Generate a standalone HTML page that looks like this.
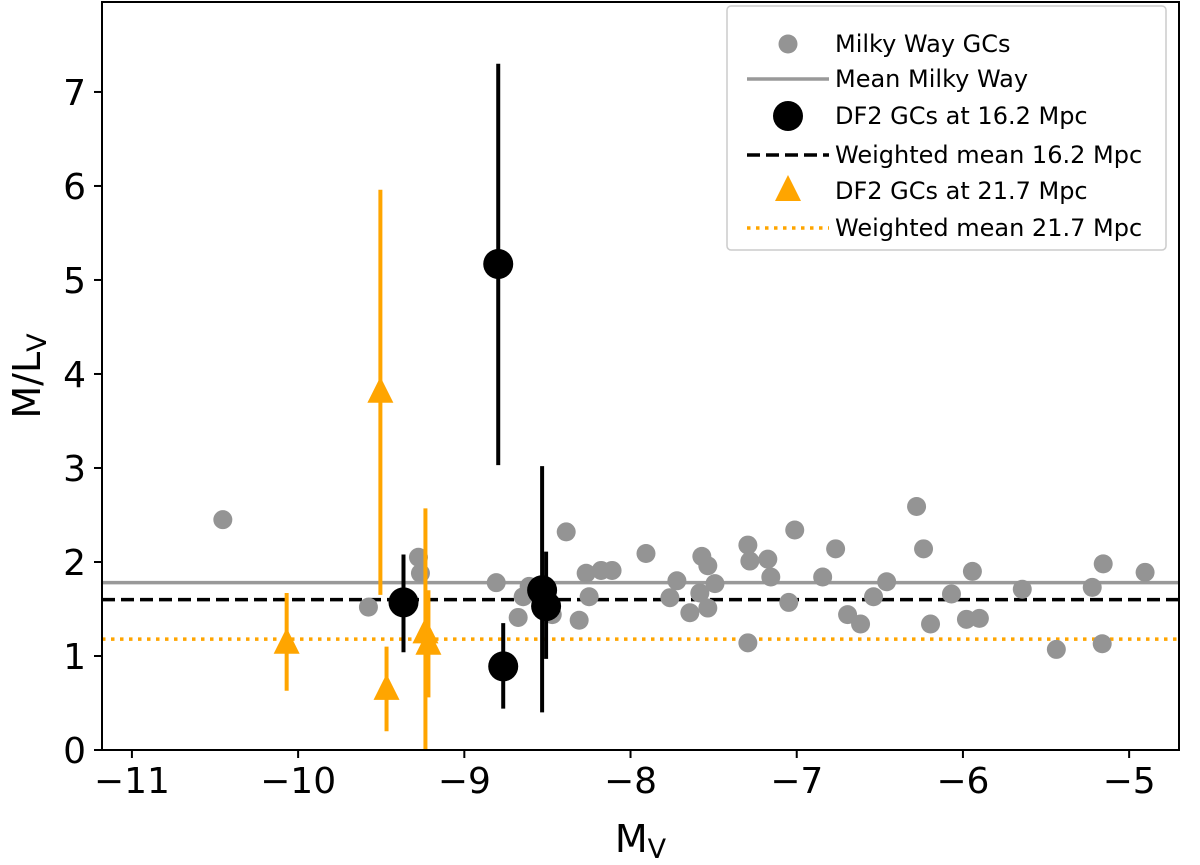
<!DOCTYPE html>
<html><head><meta charset="utf-8"><style>body{margin:0;background:#fff}svg{display:block;font-family:"DejaVu Sans","Liberation Sans",sans-serif}</style></head>
<body>
<svg id="chart" width="1200" height="865"></svg>
<script>
const mwX=[-10.453,-9.577,-9.276,-9.264,-8.808,-8.676,-8.646,-8.610,-8.471,-8.387,-8.309,-8.267,-8.249,-8.177,-8.111,-7.907,-7.763,-7.721,-7.643,-7.571,-7.535,-7.535,-7.583,-7.492,-7.294,-7.282,-7.294,-7.174,-7.156,-7.048,-7.012,-6.844,-6.766,-6.694,-6.616,-6.538,-6.459,-6.279,-6.237,-6.195,-6.069,-5.979,-5.901,-5.943,-5.643,-5.438,-5.222,-5.156,-5.162,-4.904];
const mwY=[2.45,1.52,2.05,1.88,1.78,1.41,1.63,1.74,1.44,2.32,1.38,1.88,1.63,1.91,1.91,2.09,1.62,1.80,1.46,2.06,1.96,1.51,1.67,1.77,2.18,2.01,1.14,2.03,1.84,1.57,2.34,1.84,2.14,1.44,1.34,1.63,1.79,2.59,2.14,1.34,1.66,1.39,1.40,1.90,1.71,1.07,1.73,1.98,1.13,1.89];
const d16X=[-9.366,-8.796,-8.766,-8.532,-8.508];
const d16Y=[1.57,5.17,0.89,1.70,1.53];
const d16Lo=[1.04,3.03,0.44,0.40,0.97];
const d16Hi=[2.08,7.30,1.35,3.02,2.11];
const d21X=[-10.069,-9.505,-9.468,-9.234,-9.216];
const d21Y=[1.13,3.80,0.64,1.24,1.12];
const d21Lo=[0.63,1.65,0.20,0.00,0.56];
const d21Hi=[1.67,5.96,1.10,2.57,1.70];
const meanMW=1.78, mean16=1.60, mean21=1.18;
const xTicks=[-11,-10,-9,-8,-7,-6,-5];
const yTicks=[0,1,2,3,4,5,6,7];
const L=102,R=1179,T=2,B=750;
const X0=-11.18,X1=-4.70,Y0=0,Y1=7.957;
const sx=v=>L+(v-X0)/(X1-X0)*(R-L);
const sy=v=>B-(v-Y0)/(Y1-Y0)*(B-T);
const svg=document.getElementById('chart');const NS='http://www.w3.org/2000/svg';
function mk(t,a,p){const e=document.createElementNS(NS,t);for(const k in a)e.setAttribute(k,a[k]);(p||svg).appendChild(e);return e;}
const clip=mk('clipPath',{id:'pc'});mk('rect',{x:L,y:T,width:R-L,height:B-T},clip);
const g=mk('g',{'clip-path':'url(#pc)'});


let e;
e=mk('line',{x1:L,x2:R,y1:sy(meanMW),y2:sy(meanMW),stroke:'#999',"stroke-width":3.5},g);

e=mk('line',{x1:L,x2:R,y1:sy(mean16),y2:sy(mean16),stroke:'#000',"stroke-width":3.5,"stroke-dasharray":"13 6"},g);

e=mk('line',{x1:L,x2:R,y1:sy(mean21),y2:sy(mean21),stroke:'#ffa500',"stroke-width":3.5,"stroke-dasharray":"3.5 5.5"},g);

mwX.forEach((x,i)=>{e=mk('circle',{cx:sx(x),cy:sy(mwY[i]),r:9.5,fill:'#949494'},g);
});
d21X.forEach((x,i)=>{e=mk('line',{x1:sx(x),x2:sx(x),y1:sy(d21Lo[i]),y2:sy(d21Hi[i]),stroke:'#ffa500',"stroke-width":4},g);

const cx=sx(x),cy=sy(d21Y[i]);
e=mk('polygon',{points:`${cx},${cy-16} ${cx-13},${cy+10} ${cx+13},${cy+10}`,fill:'#ffa500'},g);
});
d16X.forEach((x,i)=>{e=mk('line',{x1:sx(x),x2:sx(x),y1:sy(d16Lo[i]),y2:sy(d16Hi[i]),stroke:'#000',"stroke-width":4},g);

e=mk('circle',{cx:sx(x),cy:sy(d16Y[i]),r:15,fill:'#000'},g);
});
e=mk('rect',{x:L,y:T,width:R-L,height:B-T,fill:'none',stroke:'#000',"stroke-width":2});

xTicks.forEach(t=>{const x=sx(t);mk('line',{x1:x,x2:x,y1:B,y2:B+8,stroke:'#000',"stroke-width":2});
e=mk('text',{x:x,y:B+43,"text-anchor":"middle","font-size":36});e.textContent=(t<0?'\u2212':'')+Math.abs(t);
});
yTicks.forEach(t=>{const y=sy(t);mk('line',{x1:L-8,x2:L,y1:y,y2:y,stroke:'#000',"stroke-width":2});
e=mk('text',{x:L-16,y:y+13,"text-anchor":"end","font-size":36});e.textContent=t;
});
e=mk('text',{x:(L+R)/2,y:852,"text-anchor":"middle","font-size":38});e.innerHTML='M<tspan font-size="27" dy="6">V</tspan>';

e=mk('text',{x:0,y:0,"text-anchor":"middle","font-size":38,transform:`translate(40,${(T+B)/2}) rotate(-90)`});e.innerHTML='M/L<tspan font-size="27" dy="6">V</tspan>';

const lg=mk('g',{});
mk('rect',{x:727,y:6,width:439,height:244,rx:4,fill:'#fff',stroke:'#ccc',"stroke-width":1.5},lg);
const labels=['Milky Way GCs','Mean Milky Way','DF2 GCs at 16.2 Mpc','Weighted mean 16.2 Mpc','DF2 GCs at 21.7 Mpc','Weighted mean 21.7 Mpc'];
const rows=[44,79,116,155,191,228];
labels.forEach((s,i)=>{const y=rows[i];
if(i==0)mk('circle',{cx:788,cy:y,r:9.5,fill:'#949494'},lg);
if(i==1)mk('line',{x1:747,x2:829,y1:y,y2:y,stroke:'#999',"stroke-width":3.5},lg);
if(i==2)mk('circle',{cx:788,cy:y,r:15,fill:'#000'},lg);
if(i==3)mk('line',{x1:747,x2:829,y1:y,y2:y,stroke:'#000',"stroke-width":3.5,"stroke-dasharray":"13 6"},lg);
if(i==4)mk('polygon',{points:`788,${y-16} 775,${y+10} 801,${y+10}`,fill:'#ffa500'},lg);
if(i==5)mk('line',{x1:747,x2:829,y1:y,y2:y,stroke:'#ffa500',"stroke-width":3.5,"stroke-dasharray":"3.5 5.5"},lg);
e=mk('text',{x:835,y:y+8,"font-size":24},lg);e.textContent=s;
});
</script>
</body></html>
